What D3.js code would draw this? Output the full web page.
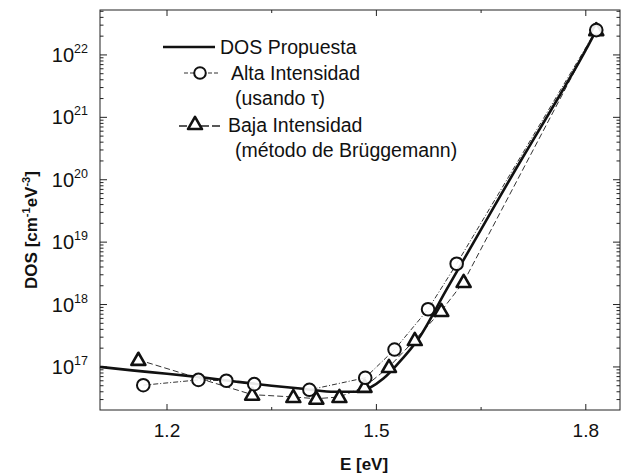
<!DOCTYPE html>
<html>
<head>
<meta charset="utf-8">
<script src="https://cdn.jsdelivr.net/npm/d3@7/dist/d3.min.js"></script>
<style>
  body { margin: 0; background: #fff; }
  svg { display: block; font-family: "Liberation Sans", Arial, sans-serif; }
</style>
</head>
<body>
<svg id="chart" width="635" height="475"></svg>
<script>
// --- data ---
const solidE   = [1.104, 1.15, 1.20, 1.25, 1.30, 1.35, 1.40, 1.44, 1.47, 1.49, 1.51, 1.53, 1.56, 1.60, 1.65, 1.70, 1.75, 1.80, 1.815];
const solidDOS = [1.0e17, 8.8e16, 7.8e16, 6.8e16, 5.8e16, 5.0e16, 4.4e16, 4.0e16, 4.0e16, 4.6e16, 6.5e16, 1.1e17, 2.8e17, 1.7e18, 1.6e19, 1.5e20, 1.3e21, 1.2e22, 2.5e22];

const altaE   = [1.166, 1.245, 1.285, 1.325, 1.404, 1.484, 1.526, 1.574, 1.615, 1.815];
const altaDOS = [5.1e16, 6.2e16, 6.0e16, 5.3e16, 4.3e16, 6.7e16, 1.9e17, 8.4e17, 4.5e18, 2.5e22];

const bajaE   = [1.159, 1.322, 1.381, 1.414, 1.447, 1.483, 1.518, 1.555, 1.593, 1.625, 1.815];
const bajaDOS = [1.3e17, 3.6e16, 3.3e16, 3.1e16, 3.3e16, 4.8e16, 1.0e17, 2.7e17, 7.9e17, 2.3e18, 2.5e22];

const xTicks = [1.2, 1.5, 1.8];
const xMinor = [1.35, 1.65];
const yExps  = [17, 18, 19, 20, 21, 22];

// --- layout ---
const svg = d3.select("#chart");
const L = 100, R = 620, T = 10, B = 410;

const x = d3.scaleLinear().domain([1.104, 1.849]).range([L, R]);
const y = d3.scaleLog().domain([Math.pow(10, 16.31), Math.pow(10, 22.72)]).range([B, T]);

// frame
svg.append("rect").attr("x", L).attr("y", T).attr("width", R - L).attr("height", B - T)
  .attr("fill", "none").attr("stroke", "#222").attr("stroke-width", 1);

// x ticks (inward, bottom and top)
const xAll = xTicks.map((v) => [v, 6]).concat(xMinor.map((v) => [v, 3]));
xAll.forEach(([v, len]) => {
  svg.append("line").attr("x1", x(v)).attr("x2", x(v)).attr("y1", B).attr("y2", B - len)
    .attr("stroke", "#222");
  svg.append("line").attr("x1", x(v)).attr("x2", x(v)).attr("y1", T).attr("y2", T + len)
    .attr("stroke", "#222");
});
svg.selectAll("text.xt").data(xTicks).join("text").attr("class", "xt")
  .attr("x", (d) => x(d)).attr("y", 437).attr("text-anchor", "middle")
  .attr("font-size", 19).attr("fill", "#111").text((d) => d.toFixed(1));

// y ticks (major + minor, inward, left and right)
const yMajor = yExps.map((e) => Math.pow(10, e));
const yMinorVals = [];
for (let e = 16; e <= 22; e++) for (let m = 2; m <= 9; m++) {
  const v = m * Math.pow(10, e);
  if (v > y.domain()[0] && v < y.domain()[1]) yMinorVals.push(v);
}
yMajor.map((v) => [v, 7]).concat(yMinorVals.map((v) => [v, 3.5])).forEach(([v, len]) => {
  svg.append("line").attr("x1", L).attr("x2", L + len).attr("y1", y(v)).attr("y2", y(v))
    .attr("stroke", "#222");
  svg.append("line").attr("x1", R).attr("x2", R - len).attr("y1", y(v)).attr("y2", y(v))
    .attr("stroke", "#222");
});
const yl = svg.selectAll("text.yt").data(yExps).join("text").attr("class", "yt")
  .attr("x", 88).attr("y", (d) => y(Math.pow(10, d)) + 7).attr("text-anchor", "end")
  .attr("fill", "#111");
yl.append("tspan").attr("font-size", 20).text("10");
yl.append("tspan").attr("font-size", 12.5).attr("dy", -9).text((d) => d);

// axis titles
svg.append("text").attr("x", 364).attr("y", 470).attr("text-anchor", "middle")
  .attr("font-size", 17).attr("font-weight", "bold").attr("fill", "#111").text("E [eV]");
const yt = svg.append("text").attr("transform", "translate(37,230) rotate(-90)")
  .attr("text-anchor", "middle").attr("font-size", 17).attr("font-weight", "bold").attr("fill", "#111");
yt.append("tspan").text("DOS [cm");
yt.append("tspan").attr("font-size", 11).attr("dy", -7).text("-1");
yt.append("tspan").attr("dy", 7).text("eV");
yt.append("tspan").attr("font-size", 11).attr("dy", -7).text("-3");
yt.append("tspan").attr("dy", 7).text("]");

// --- series ---
const line = d3.line().x((d) => x(d[0])).y((d) => y(d[1]));
const solidPts = solidE.map((e, i) => [e, solidDOS[i]]);
const altaPts = altaE.map((e, i) => [e, altaDOS[i]]);
const bajaPts = bajaE.map((e, i) => [e, bajaDOS[i]]);

svg.append("path").datum(altaPts).attr("d", line).attr("fill", "none")
  .attr("stroke", "#333").attr("stroke-width", 1).attr("stroke-dasharray", "5,2,1,2");
svg.append("path").datum(bajaPts).attr("d", line).attr("fill", "none")
  .attr("stroke", "#333").attr("stroke-width", 1).attr("stroke-dasharray", "6,3");
svg.append("path").datum(solidPts).attr("d", line.curve(d3.curveMonotoneX)).attr("fill", "none")
  .attr("stroke", "#111").attr("stroke-width", 2.6);

const tri = d3.symbol().type(d3.symbolTriangle).size(85);

svg.selectAll("path.tri").data(bajaPts).join("path").attr("class", "tri")
  .attr("d", tri).attr("transform", (d) => `translate(${x(d[0])},${y(d[1]) + 1})`)
  .attr("fill", "#fff").attr("stroke", "#111").attr("stroke-width", 2.6)
  .attr("stroke-linejoin", "round");
svg.selectAll("circle.alta").data(altaPts).join("circle").attr("class", "alta")
  .attr("cx", (d) => x(d[0])).attr("cy", (d) => y(d[1])).attr("r", 6.3)
  .attr("fill", "#fff").attr("fill-opacity", 0.9).attr("stroke", "#111").attr("stroke-width", 2);

// --- legend ---
const lg = svg.append("g");
lg.append("line").attr("x1", 163).attr("x2", 215).attr("y1", 47).attr("y2", 47)
  .attr("stroke", "#111").attr("stroke-width", 2.4);
lg.append("line").attr("x1", 184).attr("x2", 218).attr("y1", 73).attr("y2", 73)
  .attr("stroke", "#333").attr("stroke-width", 1).attr("stroke-dasharray", "4,2");
lg.append("circle").attr("cx", 200).attr("cy", 73).attr("r", 5.8)
  .attr("fill", "#fff").attr("stroke", "#111").attr("stroke-width", 2);
lg.append("line").attr("x1", 179).attr("x2", 222).attr("y1", 126).attr("y2", 126)
  .attr("stroke", "#222").attr("stroke-width", 1.3).attr("stroke-dasharray", "8,3");
lg.append("path").attr("d", tri).attr("transform", "translate(195,125)")
  .attr("fill", "#fff").attr("stroke", "#111").attr("stroke-width", 2.6)
  .attr("stroke-linejoin", "round");

const legendRows = [
  ["DOS Propuesta", 220, 54],
  ["Alta Intensidad", 231, 80],
  ["(usando \u03C4)", 235, 105],
  ["Baja Intensidad", 228, 132],
  ["(m\u00E9todo de Br\u00FCggemann)", 235, 157]
];
lg.selectAll("text").data(legendRows).join("text")
  .attr("x", (d) => d[1]).attr("y", (d) => d[2])
  .attr("font-size", 19.5).attr("fill", "#111").text((d) => d[0]);
</script>
</body>
</html>
